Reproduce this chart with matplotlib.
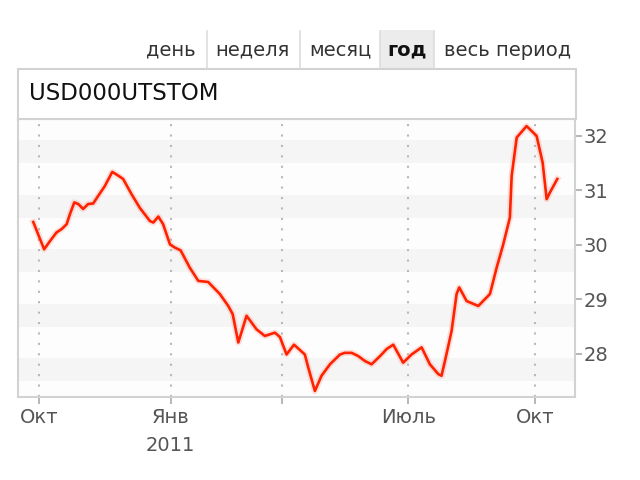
import matplotlib.pyplot as plt
from matplotlib.patches import Rectangle
from matplotlib.lines import Line2D

# trading-day index (0 = start of Oct 2010) and USD/RUB close
day = [-2.8, 2.6, 5.5, 8.8, 11.3, 13.8, 15.4, 17.6, 19.6, 22.0, 24.5, 27.0, 29.5,
       32.8, 36.5, 39.5, 41.9, 46.1, 50.2, 55.2, 56.9, 59.4, 61.8, 65.2, 67.7,
       70.5, 75.1, 79.3, 84.2, 90.0, 94.2, 96.4, 99.2, 103.3, 108.3, 112.4,
       117.4, 119.9, 123.2, 126.9, 129.9, 132.3, 134.0, 137.3, 140.6, 144.8,
       149.8, 152.2, 155.6, 158.9, 162.2, 165.5, 169.7, 173.0, 176.3, 181.2,
       185.4, 190.4, 194.5, 198.7, 200.3, 202.0, 205.3, 207.8, 209.1, 212.8,
       218.6, 224.4, 227.7, 231.0, 234.3, 235.2, 237.7, 242.6, 247.6, 250.6,
       252.6, 254.2, 257.9]
rate = [30.42, 29.92, 30.07, 30.23, 30.29, 30.38, 30.56, 30.78, 30.75, 30.66,
        30.75, 30.76, 30.90, 31.08, 31.34, 31.27, 31.21, 30.93, 30.68, 30.44,
        30.41, 30.52, 30.38, 30.01, 29.95, 29.90, 29.58, 29.34, 29.32, 29.10,
        28.88, 28.73, 28.21, 28.70, 28.45, 28.33, 28.39, 28.31, 27.99, 28.17,
        28.07, 27.99, 27.75, 27.32, 27.60, 27.81, 27.99, 28.02, 28.02, 27.96,
        27.87, 27.81, 27.96, 28.09, 28.17, 27.84, 27.99, 28.12, 27.81, 27.63,
        27.60, 27.87, 28.42, 29.10, 29.22, 28.97, 28.88, 29.10, 29.58, 30.01,
        30.50, 31.27, 31.97, 32.18, 32.00, 31.51, 30.84, 30.96, 31.21]

month_ticks = [0, 65.5, 120.7, 183.7, 246.7]
month_labels = ['Окт', 'Янв\n2011', '', 'Июль', 'Окт']
y_ticks = [28, 29, 30, 31, 32]
tabs = ['день', 'неделя', 'месяц', 'год', 'весь период']
tab_x = [171, 252, 340, 407, 508]
tab_sep = [207, 300, 380, 434]

W, H = 640, 480
fig = plt.figure(figsize=(6.4, 4.8), dpi=100)
fig.patch.set_facecolor('white')

def fx(x):
    return x / W

def fy(y):
    return 1 - y / H

border = '#d2d2d2'

# selected tab background
fig.patches.append(Rectangle((fx(380), fy(68)), fx(434) - fx(380), fy(30) - fy(68),
                             transform=fig.transFigure, facecolor='#ececec',
                             edgecolor='none', zorder=0))
for sx in tab_sep:
    fig.add_artist(Line2D([fx(sx), fx(sx)], [fy(31), fy(68)], color='#dddddd', lw=1.2))
for t, x in zip(tabs, tab_x):
    fig.text(fx(x), fy(50), t, ha='center', va='center', fontsize=14,
             color='#111111' if t == 'год' else '#333333',
             fontweight='bold' if t == 'год' else 'normal')

# title box
fig.patches.append(Rectangle((fx(18), fy(119)), fx(576) - fx(18), fy(69) - fy(119),
                             transform=fig.transFigure, facecolor='white',
                             edgecolor=border, lw=1.5, zorder=0))
fig.text(fx(29), fy(94), 'USD000UTSTOM', ha='left', va='center', fontsize=16.5,
         color='#111111')

ax = fig.add_axes([fx(18), fy(397), fx(575) - fx(18), fy(119) - fy(397)])
ax.set_xlim(-10.4, 266.7)
ax.set_ylim(27.21, 32.31)
ax.set_facecolor('#fdfdfd')

for k in range(27, 34):
    ax.axhspan(k - 0.5, k - 0.08, color='#f5f5f5', lw=0, zorder=0)
for t in month_ticks:
    ax.axvline(t, color='#b8b8b8', lw=1.5, linestyle=(0, (1, 4)), zorder=1)

ax.plot(day, rate, color='#ff8877', lw=4.5, alpha=0.25, zorder=2,
        solid_joinstyle='round')
ax.plot(day, rate, color='#ff2200', lw=1.9, zorder=3)

ax.yaxis.tick_right()
ax.set_yticks(y_ticks)
ax.set_yticklabels([str(v) for v in y_ticks])
ax.set_xticks(month_ticks)
ax.set_xticklabels(month_labels, linespacing=1.6)
ax.tick_params(axis='both', colors='#aaaaaa', labelcolor='#555555',
               labelsize=14, length=5, width=1.2)
ax.tick_params(axis='x', pad=3)
ax.tick_params(axis='y', pad=1)
for s in ax.spines.values():
    s.set_color(border)
    s.set_linewidth(1.5)

fig.savefig('out.png', dpi=100, facecolor='white')
